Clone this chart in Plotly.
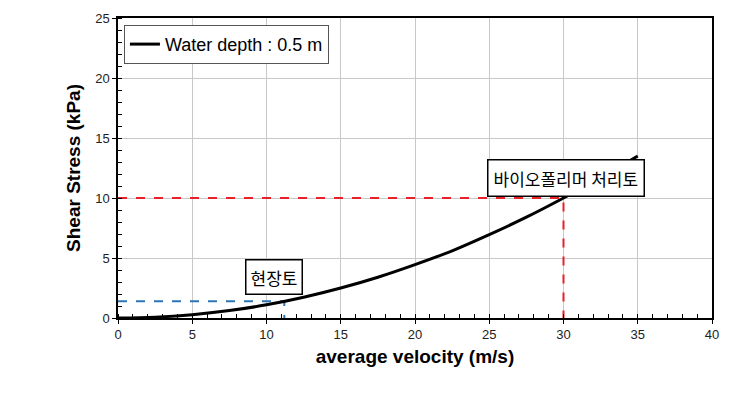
import plotly.graph_objects as go

velocity = [0, 2.5, 5, 7.5, 10, 12.5, 15, 17.5, 20, 22.5, 25, 27.5, 30, 32.5, 35]
shear = [0, 0.07, 0.28, 0.62, 1.1, 1.73, 2.5, 3.4, 4.45, 5.6, 6.95, 8.4, 10.0, 11.7, 13.5]

site_v = [0, 11.2, 11.2]
site_t = [1.4, 1.4, 0]
bio_v = [0, 30, 30]
bio_t = [10, 10, 0]

FONT = "Liberation Sans, Arial, sans-serif"
KFONT = "Noto Sans CJK KR, sans-serif"

fig = go.Figure()
fig.add_trace(go.Scatter(x=site_v, y=site_t, mode="lines",
                         line=dict(color="#2E75B6", width=2, dash="dash"),
                         showlegend=False, hoverinfo="skip"))
fig.add_trace(go.Scatter(x=bio_v, y=bio_t, mode="lines",
                         line=dict(color="#E8202A", width=2, dash="dash"),
                         showlegend=False, hoverinfo="skip"))
fig.add_trace(go.Scatter(x=velocity, y=shear, mode="lines",
                         line=dict(color="black", width=3, shape="spline"),
                         name="Water depth : 0.5 m"))

fig.add_annotation(x=10.5, y=3.4, text="현장토", showarrow=False,
                   font=dict(family=KFONT, size=17, color="black"),
                   bordercolor="black", borderwidth=1.5, borderpad=4, bgcolor="white")
fig.add_annotation(x=30.2, y=11.7, text="바이오폴리머 처리토", showarrow=False,
                   font=dict(family=KFONT, size=17, color="black"),
                   bordercolor="black", borderwidth=1.5, borderpad=5, bgcolor="white")

axis_common = dict(showline=True, linecolor="black", linewidth=1.5, mirror=True,
                   showgrid=True, gridcolor="#C8C8C8", gridwidth=1,
                   ticks="outside", ticklen=4, tickcolor="black",
                   tickfont=dict(family=FONT, size=13, color="#222"),
                   zeroline=False)

fig.update_layout(
    width=742, height=417,
    margin=dict(l=118, r=30, t=18, b=99),
    paper_bgcolor="white", plot_bgcolor="white",
    font=dict(family=FONT),
    xaxis=dict(range=[0, 40], dtick=5,
               minor=dict(dtick=1, ticks="inside", ticklen=4, tickcolor="black", showgrid=False),
               title=dict(text="<b>average velocity (m/s)</b>", font=dict(family=FONT, size=19, color="black"),
                          standoff=8),
               **axis_common),
    yaxis=dict(range=[0, 25], dtick=5,
               minor=dict(dtick=1, ticks="inside", ticklen=4, tickcolor="black", showgrid=False),
               title=dict(text="<b>Shear Stress (kPa)</b>", font=dict(family=FONT, size=19, color="black"),
                          standoff=10),
               **axis_common),
    legend=dict(x=0.01, y=0.977, xanchor="left", yanchor="top",
                bordercolor="#555", borderwidth=1, bgcolor="white",
                font=dict(family=FONT, size=18, color="black"),
                itemwidth=30),
    showlegend=True,
)

fig.write_html("out.html", config={"displayModeBar": False},
               post_script="document.body.style.margin='0';")
